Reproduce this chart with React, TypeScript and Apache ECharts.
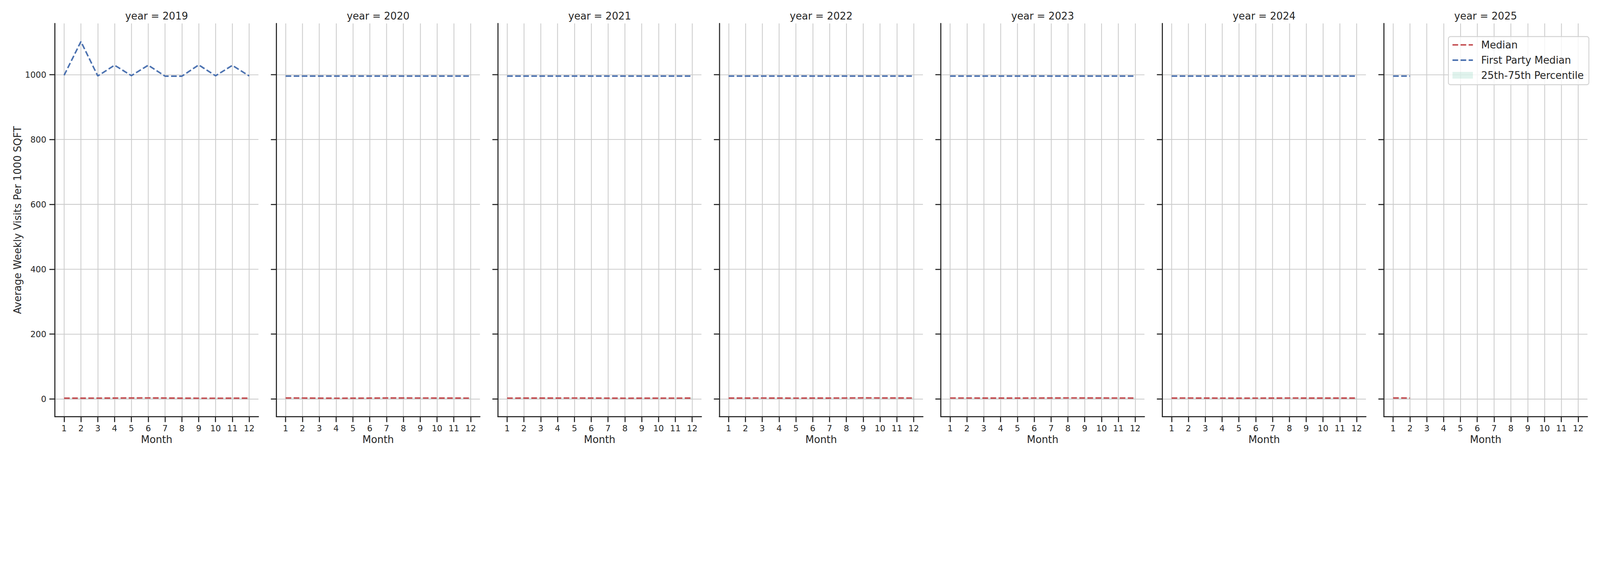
import React, { useEffect, useRef } from "react";
import * as echarts from "echarts";

// ---------- data ----------
const months = [1, 2, 3, 4, 5, 6, 7, 8, 9, 10, 11, 12];
const years = [2019, 2020, 2021, 2022, 2023, 2024, 2025];
const yTicks = [0, 200, 400, 600, 800, 1000];

const firstParty2019 = [998, 1102, 996, 1029, 997, 1029, 995.3, 995.3, 1030, 996.5, 1028.5, 996];
const firstParty2020 = [995.5, 995.5, 995.5, 995.5, 995.5, 995.5, 995.5, 995.5, 995.5, 995.5, 995.5, 995.5];
const firstParty2021 = [995.5, 995.5, 995.5, 995.5, 995.5, 995.5, 995.5, 995.5, 995.5, 995.5, 995.5, 995.5];
const firstParty2022 = [995.5, 995.5, 995.5, 995.5, 995.5, 995.5, 995.5, 995.5, 995.5, 995.5, 995.5, 995.5];
const firstParty2023 = [995.5, 995.5, 995.5, 995.5, 995.5, 995.5, 995.5, 995.5, 995.5, 995.5, 995.5, 995.5];
const firstParty2024 = [995.5, 995.5, 995.5, 995.5, 995.5, 995.5, 995.5, 995.5, 995.5, 995.5, 995.5, 995.5];
const firstParty2025 = [995.5, 995.5];

const median2019 = [2.3, 2.4, 2.5, 2.7, 3.0, 3.1, 2.8, 2.4, 2.2, 2.2, 2.3, 2.3];
const median2020 = [3.0, 2.8, 2.4, 2.2, 2.3, 2.6, 2.9, 2.9, 2.8, 2.7, 2.6, 2.5];
const median2021 = [2.5, 2.6, 2.6, 2.7, 2.8, 2.7, 2.4, 2.2, 2.3, 2.4, 2.5, 2.6];
const median2022 = [2.6, 2.7, 2.8, 2.6, 2.5, 2.6, 2.7, 2.9, 3.2, 3.0, 2.9, 2.8];
const median2023 = [2.8, 2.8, 2.7, 2.6, 2.7, 2.8, 2.9, 3.1, 3.0, 2.9, 2.8, 2.7];
const median2024 = [2.7, 2.8, 2.6, 2.5, 2.4, 2.5, 2.6, 2.8, 2.7, 2.6, 2.6, 2.7];
const median2025 = [3.0, 2.7];

const p25_2019 = [1.0, 1.0, 1.1, 1.2, 1.3, 1.3, 1.2, 1.0, 0.9, 0.9, 1.0, 1.0];
const p25_2020 = [1.2, 1.1, 1.0, 0.9, 1.0, 1.1, 1.2, 1.2, 1.1, 1.1, 1.0, 1.0];
const p25_2021 = [1.0, 1.1, 1.1, 1.1, 1.2, 1.1, 1.0, 0.9, 0.9, 1.0, 1.0, 1.1];
const p25_2022 = [1.1, 1.1, 1.2, 1.1, 1.0, 1.1, 1.1, 1.2, 1.4, 1.3, 1.2, 1.2];
const p25_2023 = [1.2, 1.2, 1.1, 1.1, 1.1, 1.2, 1.2, 1.3, 1.3, 1.2, 1.2, 1.1];
const p25_2024 = [1.1, 1.2, 1.1, 1.0, 1.0, 1.0, 1.1, 1.2, 1.1, 1.1, 1.1, 1.1];
const p25_2025 = [1.2, 1.1];

const p75_2019 = [4.4, 4.5, 4.7, 4.9, 5.2, 5.3, 5.0, 4.6, 4.3, 4.3, 4.4, 4.4];
const p75_2020 = [5.1, 4.9, 4.5, 4.3, 4.4, 4.7, 5.0, 5.0, 4.9, 4.8, 4.7, 4.6];
const p75_2021 = [4.6, 4.7, 4.7, 4.8, 4.9, 4.8, 4.5, 4.3, 4.4, 4.5, 4.6, 4.7];
const p75_2022 = [4.7, 4.8, 4.9, 4.7, 4.6, 4.7, 4.8, 5.0, 5.3, 5.1, 5.0, 4.9];
const p75_2023 = [4.9, 4.9, 4.8, 4.7, 4.8, 4.9, 5.0, 5.2, 5.1, 5.0, 4.9, 4.8];
const p75_2024 = [4.8, 4.9, 4.7, 4.6, 4.5, 4.6, 4.7, 4.9, 4.8, 4.7, 4.7, 4.8];
const p75_2025 = [5.1, 4.8];

const firstPartyByYear = [firstParty2019, firstParty2020, firstParty2021, firstParty2022, firstParty2023, firstParty2024, firstParty2025];
const medianByYear = [median2019, median2020, median2021, median2022, median2023, median2024, median2025];
const p25ByYear = [p25_2019, p25_2020, p25_2021, p25_2022, p25_2023, p25_2024, p25_2025];
const p75ByYear = [p75_2019, p75_2020, p75_2021, p75_2022, p75_2023, p75_2024, p75_2025];

const legendLabels = ["Median", "First Party Median", "25th-75th Percentile"];

// ---------- style ----------
const FONT = "DejaVu Sans";
const INK = "#262626";
const GRID = "#cccccc";
const RED = "#C44E52";
const BLUE = "#4C72B0";
const BAND = "rgba(102, 194, 165, 0.2)";
const DASH = [18.5, 8];

const W = 5250;
const H = 1500;
const LEFT0 = 180;
const STEP = 726.8;
const PW = 668;
const TOP = 77;
const PH = 1290;

export default function App() {
  const ref = useRef<HTMLDivElement>(null);
  const scale =
    typeof window !== "undefined"
      ? Math.min(window.innerWidth / W, window.innerHeight / H, 1)
      : 1;

  useEffect(() => {
    document.body.style.margin = "0";
    document.body.style.overflow = "hidden";
    if (!ref.current) return;
    const chart = echarts.init(ref.current, null, { renderer: "svg" });

    const grids: any[] = [];
    const xAxes: any[] = [];
    const yAxes: any[] = [];
    const series: any[] = [];
    const graphics: any[] = [];

    years.forEach((yr, i) => {
      const left = LEFT0 + i * STEP;
      grids.push({ left, top: TOP, width: PW, height: PH, containLabel: false });
      xAxes.push({
        type: "value",
        gridIndex: i,
        min: 0.45,
        max: 12.55,
        name: "Month",
        nameLocation: "middle",
        nameGap: 58,
        nameTextStyle: { fontSize: 33, color: INK, fontFamily: FONT },
        axisLine: { show: true, onZero: false, lineStyle: { color: INK, width: 3.5 } },
        axisTick: { show: true, length: 18, lineStyle: { color: INK, width: 3.5 }, customValues: months },
        axisLabel: {
          show: true,
          customValues: months,
          fontSize: 27.5,
          color: INK,
          margin: 24,
          fontFamily: FONT,
          formatter: (v: number) => String(v),
        },
        splitLine: { show: true, lineStyle: { color: GRID, width: 2.7 } },
      });
      yAxes.push({
        type: "value",
        gridIndex: i,
        min: -54.6,
        max: 1157.8,
        name: i === 0 ? "Average Weekly Visits Per 1000 SQFT" : "",
        nameLocation: "middle",
        nameGap: 106,
        nameRotate: 90,
        nameTextStyle: { fontSize: 33, color: INK, fontFamily: FONT },
        axisLine: { show: true, onZero: false, lineStyle: { color: INK, width: 3.5 } },
        axisTick: { show: true, length: 18, lineStyle: { color: INK, width: 3.5 }, customValues: yTicks },
        axisLabel: {
          show: i === 0,
          customValues: yTicks,
          fontSize: 27.5,
          color: INK,
          margin: 28,
          fontFamily: FONT,
          formatter: (v: number) => String(v),
        },
        splitLine: { show: true, lineStyle: { color: GRID, width: 2.7 } },
      });

      const n = firstPartyByYear[i].length;
      const ms = months.slice(0, n);
      const lo = p25ByYear[i];
      const hi = p75ByYear[i];
      series.push({
        type: "custom",
        name: "25th-75th Percentile",
        xAxisIndex: i,
        yAxisIndex: i,
        silent: true,
        z: 1,
        data: ms.map((m, k) => [m, lo[k], hi[k]]),
        encode: { x: 0, y: [1, 2] },
        renderItem: (params: any, api: any) => {
          if (params.dataIndex !== 0) return null;
          const upper = ms.map((m, k) => api.coord([m, hi[k]]));
          const lower = ms.map((m, k) => api.coord([m, lo[k]])).reverse();
          return {
            type: "polygon",
            shape: { points: upper.concat(lower) },
            style: { fill: BAND },
          };
        },
      });
      series.push({
        type: "line",
        name: "Median",
        xAxisIndex: i,
        yAxisIndex: i,
        symbol: "none",
        lineStyle: { color: RED, width: 5, type: DASH },
        itemStyle: { color: RED },
        data: ms.map((m, k) => [m, medianByYear[i][k]]),
        z: 3,
      });
      series.push({
        type: "line",
        name: "First Party Median",
        xAxisIndex: i,
        yAxisIndex: i,
        symbol: "none",
        lineStyle: { color: BLUE, width: 5, type: DASH },
        itemStyle: { color: BLUE },
        data: ms.map((m, k) => [m, firstPartyByYear[i][k]]),
        z: 4,
      });

      graphics.push({
        type: "text",
        x: left + PW / 2,
        y: 53,
        z: 100,
        style: {
          text: "year = " + yr,
          fontSize: 33,
          fontFamily: FONT,
          fill: INK,
          align: "center",
          verticalAlign: "middle",
        },
      });
    });

    // legend (drawn as graphics)
    const LX = 4752.5;
    const LY = 120;
    graphics.push({
      type: "rect",
      z: 100,
      shape: { x: LX, y: LY, width: 461, height: 158, r: 7 },
      style: { fill: "rgba(255,255,255,0.8)", stroke: "#d0d0d0", lineWidth: 2.7 },
    });
    graphics.push({
      type: "line",
      z: 101,
      shape: { x1: 4766, y1: 147.3, x2: 4833, y2: 147.3 },
      style: { stroke: RED, lineWidth: 5, lineDash: DASH },
    });
    graphics.push({
      type: "line",
      z: 101,
      shape: { x1: 4766, y1: 197.3, x2: 4833, y2: 197.3 },
      style: { stroke: BLUE, lineWidth: 5, lineDash: DASH },
    });
    graphics.push({
      type: "rect",
      z: 101,
      shape: { x: 4766, y: 236, width: 67, height: 22 },
      style: { fill: BAND },
    });
    [147, 197, 247].forEach((y, k) => {
      graphics.push({
        type: "text",
        x: 4860,
        y,
        z: 101,
        style: {
          text: legendLabels[k],
          fontSize: 33,
          fontFamily: FONT,
          fill: INK,
          align: "left",
          verticalAlign: "middle",
        },
      });
    });

    chart.setOption({
      animation: false,
      backgroundColor: "#ffffff",
      textStyle: { fontFamily: FONT },
      grid: grids,
      xAxis: xAxes,
      yAxis: yAxes,
      series,
      graphic: graphics,
    });

    return () => chart.dispose();
  }, []);

  return (
    <div style={{ position: "fixed", left: 0, top: 0, width: "100vw", height: "100vh", overflow: "hidden", background: "#fff" }}>
      <div
        ref={ref}
        style={{ width: W, height: H, transform: `scale(${scale})`, transformOrigin: "0 0" }}
      />
    </div>
  );
}
